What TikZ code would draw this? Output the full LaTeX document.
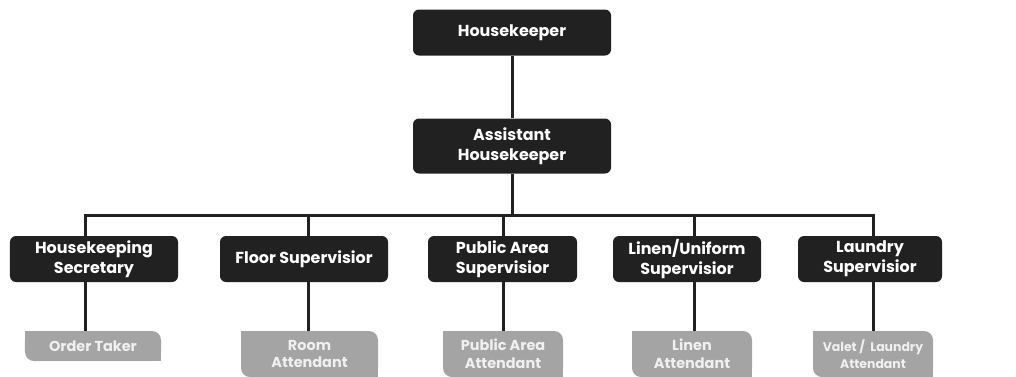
\documentclass[tikz,border=0pt]{standalone}
\usepackage{fontspec}
\setmainfont{Poppins}
\usetikzlibrary{positioning}
\usetikzlibrary{backgrounds}
\definecolor{boxdark}{HTML}{212121}
\definecolor{boxgray}{HTML}{A4A4A4}
\definecolor{textlight}{HTML}{F0F0F0}
\tikzset{
    headnode/.style = {rectangle, rounded corners=6bp, fill=boxdark, text=white, align=center, minimum height=46bp, inner sep=2bp, font=\bfseries\fontsize{16}{20}\selectfont},
    staffnode/.style = {rectangle, align=center, text=textlight, minimum height=46bp, inner sep=2bp, font=\bfseries\fontsize{14.5}{18}\selectfont,
        path picture={
            \fill[boxgray,rounded corners=9bp] (path picture bounding box.north west) rectangle (path picture bounding box.south east);
            \fill[boxgray] (path picture bounding box.north west) rectangle ++(12bp,-12bp);
            \fill[boxgray] (path picture bounding box.south east) rectangle ++(-12bp,12bp);
        }},
    link/.style = {line width=3bp, draw=boxdark, line join=miter},
}

\begin{document}
\begin{tikzpicture}[x=1bp,y=-1bp]
\useasboundingbox (0,0) rectangle (1016,376);
%
\node[headnode,minimum width=198bp] at (512,32.5) (hk) {Housekeeper};
\node[headnode,minimum width=198bp,minimum height=55bp] at (512,146) (ahk) {Assistant\\Housekeeper};
%
\node[headnode,minimum width=168bp] at (94,259) (sec) {Housekeeping\\Secretary};
\node[headnode,minimum width=168bp] at (304,259) (floor) {Floor Supervisior};
\node[headnode,minimum width=149bp] at (502.5,259) (pub) {Public Area\\Supervisior};
\node[headnode,minimum width=148bp] at (687,259) (linen) {Linen/Uniform\\Supervisior};
\node[headnode,minimum width=144bp] at (870,259) (laundry) {Laundry\\Supervisior};
%
\node[staffnode,minimum width=136bp,minimum height=30bp] at (93,346) (order) {Order Taker};
\node[staffnode,minimum width=137bp] at (309.5,354) (room) {Room\\Attendant};
\node[staffnode,minimum width=120bp] at (503,354) (pubatt) {Public Area\\Attendant};
\node[staffnode,minimum width=120bp] at (692,354) (linenatt) {Linen\\Attendant};
\node[staffnode,minimum width=120bp,font=\bfseries\fontsize{12.5}{17}\selectfont] at (873,354) (valet) {Valet /\ \ Laundry\\Attendant};
%
\coordinate (b1) at (85,215);
\coordinate (b2) at (308,215);
\coordinate (b3) at (503,215);
\coordinate (b4) at (694,215);
\coordinate (b5) at (873,215);
%
\begin{scope}[on background layer]
\draw[link] (hk) -- (ahk);
\draw[link] (ahk) -- (ahk |- b1);
\draw[link] (b1 |- order.north) -- (b1) -- (b5) -- (b5 |- valet.north);
\draw[link] (b2) -- (b2 |- room.north);
\draw[link] (b3) -- (b3 |- pubatt.north);
\draw[link] (b4) -- (b4 |- linenatt.north);
\end{scope}

\end{tikzpicture}
\end{document}
